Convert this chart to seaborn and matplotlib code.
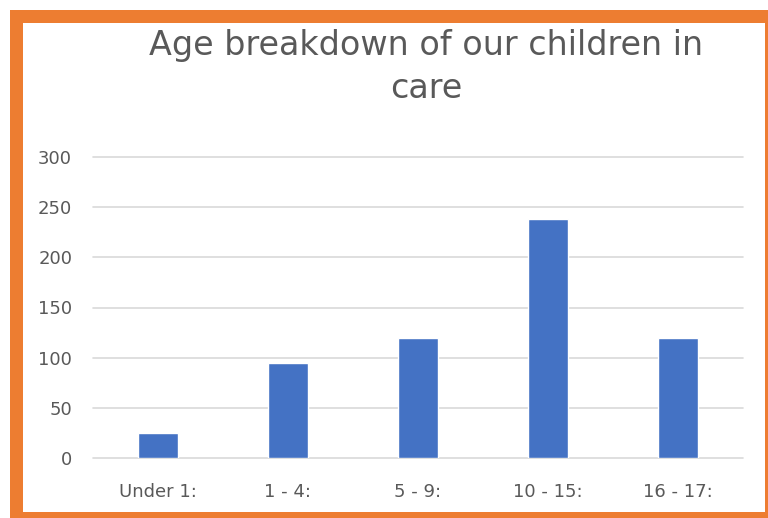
import matplotlib
matplotlib.use("Agg")
import matplotlib.pyplot as plt
import seaborn as sns
import pandas as pd
from matplotlib.patches import Rectangle

# Data
age_groups = ["Under 1:", "1 - 4:", "5 - 9:", "10 - 15:", "16 - 17:"]
children = [25, 95, 120, 238, 120]
y_ticks = [0, 50, 100, 150, 200, 250, 300]
title_text = "Age breakdown of our children in\ncare"

df = pd.DataFrame({"age": age_groups, "count": children})

sns.set_theme(style="white")
plt.rcParams["font.family"] = ["DejaVu Sans"]

W, H = 768, 518
fig = plt.figure(figsize=(W / 100, H / 100), dpi=100)
fig.patch.set_facecolor("white")

# Orange frame around the chart
def px_rect(x0, y0, x1, y1, color, z):
    fig.patches.append(Rectangle((x0 / W, 1 - y1 / H), (x1 - x0) / W, (y1 - y0) / H,
                                 transform=fig.transFigure, facecolor=color,
                                 edgecolor="none", zorder=z))

px_rect(10, 10, 768, 518, "#ED7D31", -2)
px_rect(23, 23, 765, 512, "#FFFFFF", -1)

ax = fig.add_axes([93 / W, 1 - 458 / H, (743 - 93) / W, (458 - 157) / H])
ax.set_zorder(5)
ax.set_facecolor("none")

sns.barplot(data=df, x="age", y="count", color="#4472C4", width=0.31,
            saturation=1, ax=ax, zorder=3)

ax.set_ylim(0, 300)
ax.set_yticks(y_ticks)
ax.set_yticklabels([str(v) for v in y_ticks])
ax.yaxis.grid(True, color="#D9D9D9", linewidth=1.2, zorder=0)
for gl in ax.get_ygridlines():
    gl.set_clip_on(False)
ax.xaxis.grid(False)
for s in ax.spines.values():
    s.set_visible(False)
ax.set_xlabel("")
ax.set_ylabel("")
ax.tick_params(axis="both", length=0, labelsize=13, colors="#595959")
ax.tick_params(axis="y", pad=15)
ax.tick_params(axis="x", pad=18)

fig.text(426 / W, 1 - 67 / H, title_text, ha="center", va="center",
         fontsize=24, color="#595959", linespacing=1.35, zorder=10)

fig.savefig("out.png", dpi=100)
